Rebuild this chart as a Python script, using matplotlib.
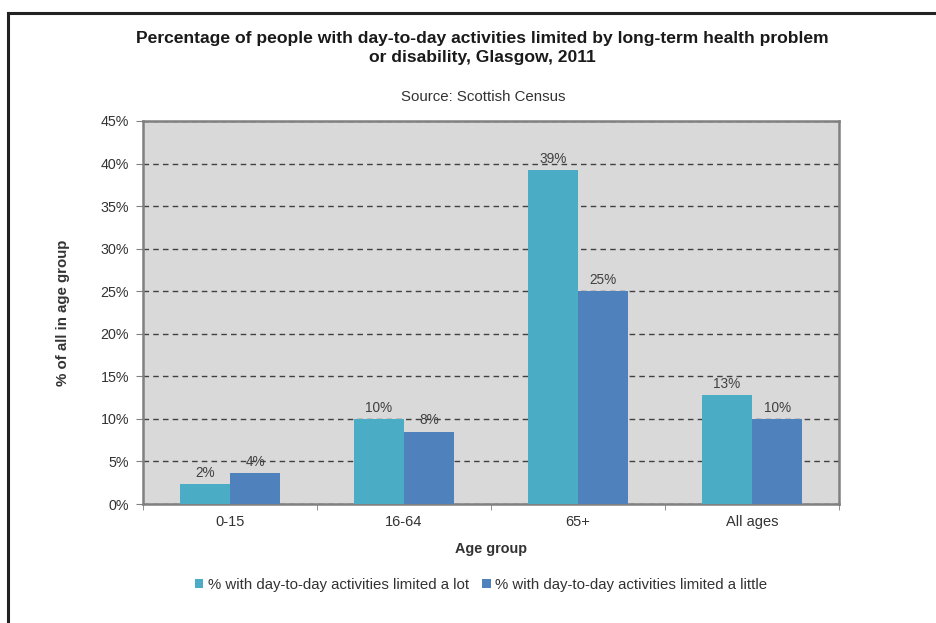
import matplotlib
matplotlib.use("Agg")
import matplotlib.pyplot as plt
from matplotlib.lines import Line2D
import numpy as np

plt.rcParams['font.family'] = ['Liberation Sans', 'DejaVu Sans']

categories = ["0-15", "16-64", "65+", "All ages"]
limited_lot = [2.3, 10.0, 39.2, 12.8]
limited_little = [3.6, 8.5, 25.0, 10.0]
labels_lot = ["2%", "10%", "39%", "13%"]
labels_little = ["4%", "8%", "25%", "10%"]
series_names = ["% with day-to-day activities limited a lot",
                "% with day-to-day activities limited a little"]
yticks = [0, 5, 10, 15, 20, 25, 30, 35, 40, 45]

fig = plt.figure(figsize=(9.36, 6.23), dpi=100)
ax = fig.add_axes([0.1528, 0.191, 0.7436, 0.6148])
ax.set_facecolor('#d9d9d9')

x = np.arange(len(categories))
w = 0.288
b1 = ax.bar(x - w/2, limited_lot, w, color='#4bacc6', label=series_names[0], zorder=3)
b2 = ax.bar(x + w/2, limited_little, w, color='#4f81bd', label=series_names[1], zorder=3)

for rect, lab in zip(b1, labels_lot):
    ax.annotate(lab, (rect.get_x() + rect.get_width()/2, rect.get_height()),
                xytext=(0, 3), textcoords='offset points', ha='center', va='bottom',
                fontsize=9.8, color='#404040', zorder=4)
for rect, lab in zip(b2, labels_little):
    ax.annotate(lab, (rect.get_x() + rect.get_width()/2, rect.get_height()),
                xytext=(0, 3), textcoords='offset points', ha='center', va='bottom',
                fontsize=9.8, color='#404040', zorder=4)

ax.set_xlim(-0.5, len(categories) - 0.5)
ax.set_ylim(0, 45)
ax.set_yticks(yticks)
ax.set_yticklabels([f"{t}%" for t in yticks], fontsize=10.3, color='#333333')
ax.set_xticks(x)
ax.set_xticklabels(categories, fontsize=10.5, color='#333333')
ax.tick_params(axis='x', which='major', length=0, pad=8)
ax.set_xticks(np.arange(len(categories) + 1) - 0.5, minor=True)
ax.tick_params(axis='x', which='minor', length=4, color='#808080', direction='out')
ax.tick_params(axis='y', length=5, color='#808080', direction='out', pad=5)

ax.yaxis.grid(True, linestyle=(0, (4, 3)), color='#404040', linewidth=1.0, zorder=1)
ax.set_axisbelow(True)
for s in ax.spines.values():
    s.set_color('#808080')
    s.set_linewidth(1.8)

ax.set_ylabel("% of all in age group", fontsize=10.8, fontweight='bold', color='#333333', labelpad=22)
ax.set_xlabel("Age group", fontsize=10.4, fontweight='bold', color='#333333', labelpad=9)

fig.text(0.5155, 0.923, "Percentage of people with day-to-day activities limited by long-term health problem\nor disability, Glasgow, 2011",
         ha='center', va='center', fontsize=12.6, fontweight='bold', color='#1a1a1a', linespacing=1.35)
fig.text(0.516, 0.844, "Source: Scottish Census", ha='center', va='center', fontsize=10.8, color='#333333')

leg = fig.legend(handles=[b1, b2], loc='center', bbox_to_anchor=(0.514, 0.061), ncol=2, frameon=False,
                 fontsize=10.8, handlelength=0.55, handleheight=0.55, handletextpad=0.3, columnspacing=0.9)
for t in leg.get_texts():
    t.set_color('#333333')

# outer frame (left and top edges visible)
fig.add_artist(Line2D([8/936, 8/936], [0, 1 - 13/623], transform=fig.transFigure, color='#222222', linewidth=2.2))
fig.add_artist(Line2D([8/936, 1], [1 - 13/623, 1 - 13/623], transform=fig.transFigure, color='#222222', linewidth=2.2))

fig.savefig("out.png", dpi=100)
